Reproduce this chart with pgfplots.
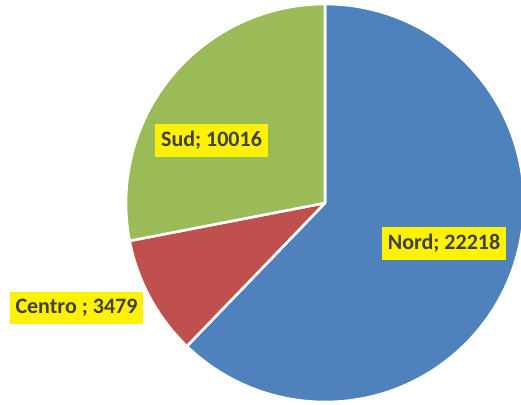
\documentclass[border=0pt]{standalone}
\usepackage{fontspec}
\setmainfont{Carlito}
\usepackage{pgfplots}
\pgfplotsset{compat=1.18}

\definecolor{nordblue}{HTML}{4F81BD}
\definecolor{centrored}{HTML}{C0504D}
\definecolor{sudgreen}{HTML}{9BBB59}
\definecolor{labeltext}{HTML}{404040}

% values
\def\vNord{22218}
\def\vCentro{3479}
\def\vSud{10016}

\begin{document}
\begin{tikzpicture}
  \useasboundingbox (0,0) rectangle (260.5pt,202pt);
  \edef\tot{\fpeval{\vNord+\vCentro+\vSud}}
  \edef\aA{90}
  \edef\aB{\fpeval{round(\aA-360*\vNord/\tot,3)}}
  \edef\aC{\fpeval{round(\aB-360*\vCentro/\tot,3)}}
  \edef\aD{\fpeval{round(\aC-360*\vSud/\tot,3)}}
  \begin{axis}[
      x=0.5pt, y=0.5pt,
      xmin=0, xmax=521, ymin=0, ymax=404,
      scale only axis,
      hide axis,
      clip=true,
    ]
    \def\r{99.5pt}
    \filldraw[fill=nordblue, draw=white, line width=1.3pt, line join=round]
      (axis cs:325,201) -- ++(\aA:\r) arc[start angle=\aA, end angle=\aB, radius=\r] -- cycle;
    \filldraw[fill=centrored, draw=white, line width=1.3pt, line join=round]
      (axis cs:325,201) -- ++(\aB:\r) arc[start angle=\aB, end angle=\aC, radius=\r] -- cycle;
    \filldraw[fill=sudgreen, draw=white, line width=1.3pt, line join=round]
      (axis cs:325,201) -- ++(\aC:\r) arc[start angle=\aC, end angle=\aD, radius=\r] -- cycle;

    \tikzset{lbl/.style={fill=yellow, text=labeltext, font=\fontsize{11}{13}\selectfont\bfseries,
      inner xsep=3pt, inner ysep=3.5pt}}
    \node[lbl] at (axis cs:444,160.5) {Nord; 22218};
    \node[lbl] at (axis cs:211.5,263.5) {Sud; 10016};
    \node[lbl] at (axis cs:76.5,96) {Centro ; 3479};
  \end{axis}
\end{tikzpicture}
\end{document}
